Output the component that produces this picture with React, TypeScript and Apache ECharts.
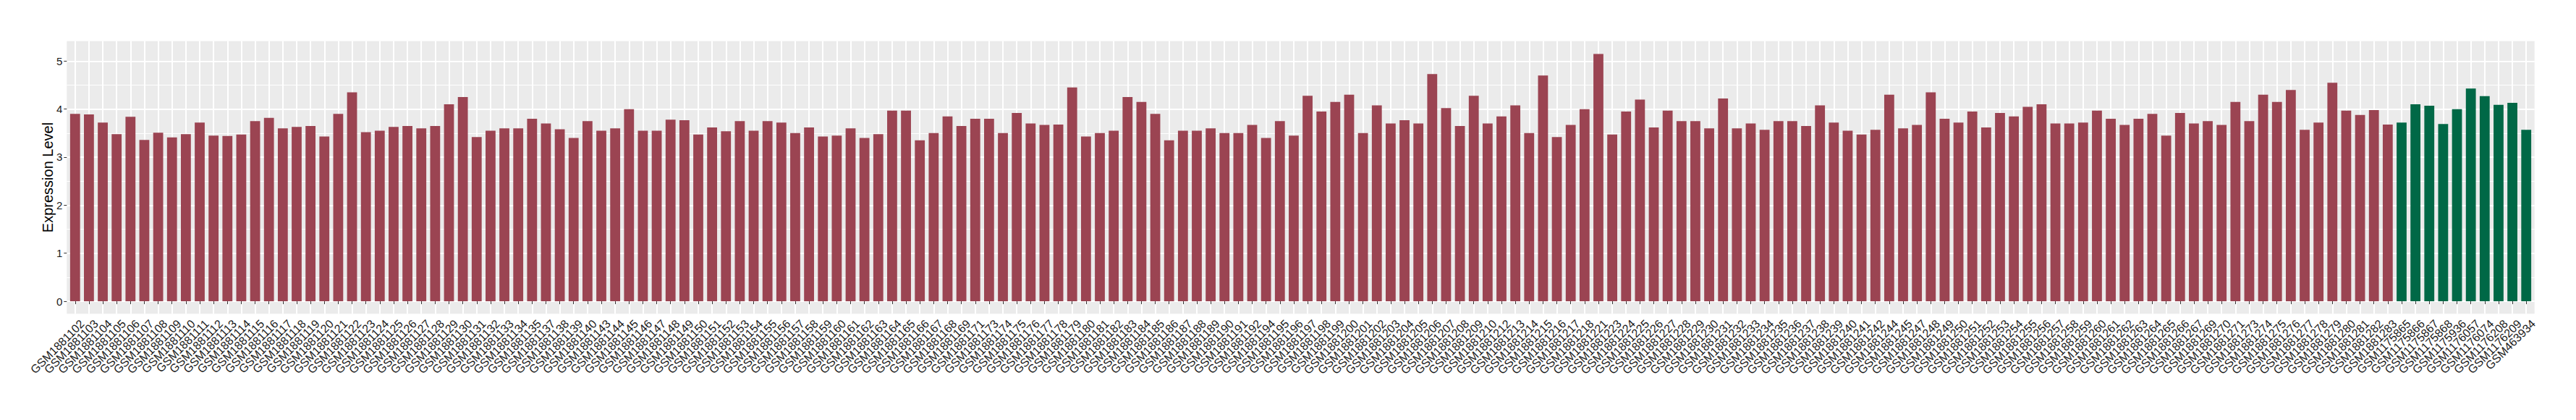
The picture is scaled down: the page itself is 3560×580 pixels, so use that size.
import React, { useEffect, useRef } from 'react';
import * as echarts from 'echarts';

// Tumour samples (red bars)
const tumorSamples: string[] = [
  'GSM1881102', 'GSM1881103', 'GSM1881104', 'GSM1881105', 'GSM1881106', 'GSM1881107', 'GSM1881108', 'GSM1881109',
  'GSM1881110', 'GSM1881111', 'GSM1881112', 'GSM1881113', 'GSM1881114', 'GSM1881115', 'GSM1881116', 'GSM1881117',
  'GSM1881118', 'GSM1881119', 'GSM1881120', 'GSM1881121', 'GSM1881122', 'GSM1881123', 'GSM1881124', 'GSM1881125',
  'GSM1881126', 'GSM1881127', 'GSM1881128', 'GSM1881129', 'GSM1881130', 'GSM1881131', 'GSM1881132', 'GSM1881133',
  'GSM1881134', 'GSM1881135', 'GSM1881137', 'GSM1881138', 'GSM1881139', 'GSM1881140', 'GSM1881143', 'GSM1881144',
  'GSM1881145', 'GSM1881146', 'GSM1881147', 'GSM1881148', 'GSM1881149', 'GSM1881150', 'GSM1881151', 'GSM1881152',
  'GSM1881153', 'GSM1881154', 'GSM1881155', 'GSM1881156', 'GSM1881157', 'GSM1881158', 'GSM1881159', 'GSM1881160',
  'GSM1881161', 'GSM1881162', 'GSM1881163', 'GSM1881164', 'GSM1881165', 'GSM1881166', 'GSM1881167', 'GSM1881168',
  'GSM1881169', 'GSM1881171', 'GSM1881173', 'GSM1881174', 'GSM1881175', 'GSM1881176', 'GSM1881177', 'GSM1881178',
  'GSM1881179', 'GSM1881180', 'GSM1881181', 'GSM1881182', 'GSM1881183', 'GSM1881184', 'GSM1881185', 'GSM1881186',
  'GSM1881187', 'GSM1881188', 'GSM1881189', 'GSM1881190', 'GSM1881191', 'GSM1881192', 'GSM1881194', 'GSM1881195',
  'GSM1881196', 'GSM1881197', 'GSM1881198', 'GSM1881199', 'GSM1881200', 'GSM1881201', 'GSM1881202', 'GSM1881203',
  'GSM1881204', 'GSM1881205', 'GSM1881206', 'GSM1881207', 'GSM1881208', 'GSM1881209', 'GSM1881210', 'GSM1881212',
  'GSM1881213', 'GSM1881214', 'GSM1881215', 'GSM1881216', 'GSM1881217', 'GSM1881218', 'GSM1881221', 'GSM1881223',
  'GSM1881224', 'GSM1881225', 'GSM1881226', 'GSM1881227', 'GSM1881228', 'GSM1881229', 'GSM1881230', 'GSM1881231',
  'GSM1881232', 'GSM1881233', 'GSM1881234', 'GSM1881235', 'GSM1881236', 'GSM1881237', 'GSM1881238', 'GSM1881239',
  'GSM1881240', 'GSM1881241', 'GSM1881242', 'GSM1881244', 'GSM1881245', 'GSM1881247', 'GSM1881248', 'GSM1881249',
  'GSM1881250', 'GSM1881251', 'GSM1881252', 'GSM1881253', 'GSM1881254', 'GSM1881255', 'GSM1881256', 'GSM1881257',
  'GSM1881258', 'GSM1881259', 'GSM1881260', 'GSM1881261', 'GSM1881262', 'GSM1881263', 'GSM1881264', 'GSM1881265',
  'GSM1881266', 'GSM1881267', 'GSM1881269', 'GSM1881270', 'GSM1881271', 'GSM1881273', 'GSM1881274', 'GSM1881275',
  'GSM1881276', 'GSM1881277', 'GSM1881278', 'GSM1881279', 'GSM1881280', 'GSM1881281', 'GSM1881282', 'GSM1881283',
];

const tumorValues: number[] = [
  3.90, 3.89, 3.72, 3.48, 3.84, 3.36, 3.51, 3.41,
  3.48, 3.72, 3.45, 3.44, 3.47, 3.75, 3.82, 3.60,
  3.63, 3.65, 3.43, 3.90, 4.35, 3.52, 3.55, 3.63,
  3.65, 3.60, 3.65, 4.10, 4.25, 3.42, 3.55, 3.60,
  3.60, 3.80, 3.70, 3.58, 3.40, 3.75, 3.55, 3.60,
  4.00, 3.55, 3.55, 3.78, 3.77, 3.47, 3.62, 3.54,
  3.75, 3.55, 3.75, 3.72, 3.50, 3.62, 3.43, 3.45,
  3.60, 3.40, 3.48, 3.97, 3.97, 3.35, 3.50, 3.85,
  3.65, 3.80, 3.80, 3.50, 3.92, 3.70, 3.67, 3.68,
  4.45, 3.43, 3.50, 3.55, 4.25, 4.15, 3.90, 3.35,
  3.55, 3.55, 3.60, 3.50, 3.50, 3.67, 3.40, 3.75,
  3.45, 4.28, 3.95, 4.15, 4.30, 3.50, 4.08, 3.70,
  3.77, 3.70, 4.73, 4.02, 3.65, 4.28, 3.70, 3.85,
  4.08, 3.50, 4.70, 3.42, 3.67, 4.00, 5.15, 3.47,
  3.95, 4.20, 3.62, 3.97, 3.75, 3.75, 3.60, 4.22,
  3.60, 3.70, 3.57, 3.75, 3.75, 3.65, 4.08, 3.72,
  3.55, 3.47, 3.57, 4.30, 3.60, 3.67, 4.35, 3.80,
  3.72, 3.95, 3.62, 3.92, 3.85, 4.05, 4.10, 3.70,
  3.70, 3.72, 3.97, 3.80, 3.67, 3.80, 3.90, 3.45,
  3.92, 3.70, 3.75, 3.67, 4.15, 3.75, 4.30, 4.15,
  4.40, 3.57, 3.72, 4.55, 3.97, 3.88, 3.98, 3.68,
];

// Normal samples (green bars)
const normalSamples: string[] = [
  'GSM1175865', 'GSM1175866', 'GSM1175867', 'GSM1175868', 'GSM1175936',
  'GSM1176057', 'GSM1176074', 'GSM1176208', 'GSM1176209', 'GSM463934',
];
const normalValues: number[] = [3.72, 4.10, 4.07, 3.69, 4.00, 4.43, 4.27, 4.09, 4.13, 3.57];

const yTitle = 'Expression Level';

const App: React.FC = () => {
  const ref = useRef<HTMLDivElement>(null);

  useEffect(() => {
    if (!ref.current) return;
    const chart = echarts.init(ref.current, undefined, { renderer: 'svg' });
    const categories = [...tumorSamples, ...normalSamples];
    const redData = [...tumorValues, ...normalSamples.map(() => '-')];
    const greenData = [...tumorSamples.map(() => '-'), ...normalValues];
    const font = 'Liberation Sans, Arial, sans-serif';

    chart.setOption({
      animation: false,
      backgroundColor: '#ffffff',
      grid: [
        { left: 92.3, right: 57.3, top: 56.7, bottom: 146.7, show: true, backgroundColor: '#EBEBEB', borderWidth: 0 },
        { left: 92.3, right: 57.3, top: 84.3, bottom: 164, show: false },
        { left: 94.2, right: 59.2, top: 56.7, bottom: 146.7, show: false },
      ],
      xAxis: [
        { gridIndex: 0, type: 'value', show: false },
        { gridIndex: 1, type: 'value', show: false },
        {
          gridIndex: 2,
          type: 'category',
          data: categories,
          boundaryGap: true,
          axisLine: { show: false },
          axisTick: { show: true, alignWithLabel: true, interval: 0, length: 4, lineStyle: { color: '#333333', width: 1 } },
          axisLabel: {
            interval: 0,
            rotate: 45,
            margin: 9.5,
            align: 'right',
            verticalAlign: 'top',
            padding: [0, -6, 0, 0],
            fontSize: 16,
            fontFamily: font,
            color: '#1a1a1a',
          },
          splitLine: { show: true, alignWithLabel: true, interval: 0, lineStyle: { color: '#ffffff', width: 2 } },
        },
      ],
      yAxis: [
        { gridIndex: 0, type: 'value', show: false },
        {
          gridIndex: 1,
          type: 'value',
          min: 0,
          max: 5,
          interval: 1,
          axisLine: { show: false },
          axisTick: { show: true, length: 4, lineStyle: { color: '#333333', width: 1 } },
          axisLabel: { margin: 6, fontSize: 15, fontFamily: font, color: '#1a1a1a' },
          splitLine: { show: true, lineStyle: { color: '#ffffff', width: 2 } },
          minorTick: { show: false, splitNumber: 2 },
          minorSplitLine: { show: true, lineStyle: { color: '#ffffff', width: 1 } },
        },
        { gridIndex: 2, type: 'value', min: -0.26, max: 5.417, show: false },
      ],
      series: [
        {
          type: 'bar',
          xAxisIndex: 2,
          yAxisIndex: 2,
          data: redData,
          barWidth: '72%',
          itemStyle: { color: '#9B4452' },
          z: 3,
        },
        {
          type: 'bar',
          xAxisIndex: 2,
          yAxisIndex: 2,
          data: greenData,
          barWidth: '72%',
          barGap: '-100%',
          itemStyle: { color: '#006846' },
          z: 3,
        },
      ],
      graphic: [
        {
          type: 'text',
          x: 65.5,
          y: 245,
          rotation: Math.PI / 2,
          style: {
            text: yTitle,
            fontSize: 20,
            fontFamily: font,
            fill: '#000000',
            align: 'center',
            verticalAlign: 'middle',
          },
        },
      ],
    });

    return () => {
      chart.dispose();
    };
  }, []);

  return (
    <div
      ref={ref}
      style={{ position: 'absolute', left: 0, top: 0, width: 3560, height: 580 }}
    />
  );
};

export default App;
